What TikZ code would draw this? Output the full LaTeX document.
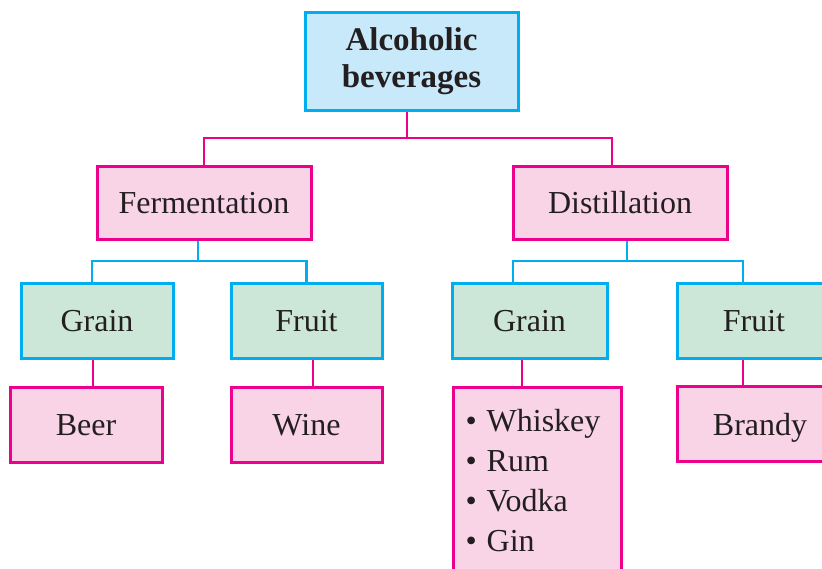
\documentclass[tikz,border=0pt]{standalone}
\usepackage{fontspec}
\setmainfont{Liberation Serif}
\usepackage{tikz}
\usetikzlibrary{positioning}

\definecolor{magb}{HTML}{EC008C}
\definecolor{cyanb}{HTML}{00AEEF}
\definecolor{pinkfill}{HTML}{F9D4E6}
\definecolor{bluefill}{HTML}{C8E9F9}
\definecolor{greenfill}{HTML}{CCE6D7}
\definecolor{inktext}{HTML}{231F20}

\begin{document}
\begin{tikzpicture}[x=0.5pt, y=-0.5pt,
    box/.style={line width=1.5pt, inner sep=0pt, align=center, text=inktext,
                font=\fontsize{16}{20}\selectfont},
    onerow/.style={text height=12pt, text depth=1pt},
    headbox/.style={box, draw=cyanb, fill=bluefill,
                font=\bfseries\fontsize{16.5}{18.5}\selectfont},
    pinkbox/.style={box, draw=magb, fill=pinkfill},
    pinkrow/.style={pinkbox, onerow},
    greenbox/.style={box, onerow, draw=cyanb, fill=greenfill},
    magline/.style={draw=magb, line width=1.4pt},
    cyanline/.style={draw=cyanb, line width=1.4pt}]
    \useasboundingbox (0,0) rectangle (822,568);

    \node[headbox, minimum width=106.5pt, minimum height=49pt] (top) at (411.5,61) {Alcoholic\\beverages};

    \node[pinkrow, minimum width=107pt, minimum height=36.5pt] (ferm) at (204,202.5) {Fermentation};
    \node[pinkrow, minimum width=107pt, minimum height=36.5pt] (dist) at (620,202.5) {Distillation};

    \node[greenbox, minimum width=76pt, minimum height=37.5pt] (fgrain) at (97,320.5) {Grain};
    \node[greenbox, minimum width=75.5pt, minimum height=37.5pt] (ffruit) at (306.5,320.5) {Fruit};
    \node[greenbox, minimum width=77.5pt, minimum height=37.5pt] (dgrain) at (529.5,320.5) {Grain};
    \node[greenbox, minimum width=85pt, minimum height=37.5pt] (dfruit) at (762,320.5) {\hspace*{-8pt}Fruit};

    \node[pinkrow, minimum width=76pt, minimum height=37.5pt] (beer) at (86,424.5) {Beer};
    \node[pinkrow, minimum width=75.5pt, minimum height=37.5pt] (wine) at (306.5,424.5) {Wine};
    \node[pinkbox, anchor=north west, align=left, text width=72pt,
          inner xsep=6pt, inner ysep=10.8pt] (spirits) at (452,386)
          {\textbullet\hspace{5pt}Whiskey\\ \textbullet\hspace{5pt}Rum\\
           \textbullet\hspace{5pt}Vodka\\ \textbullet\hspace{5pt}Gin};
    \node[pinkrow, minimum width=88pt, minimum height=37.5pt] (brandy) at (765,424) {\hspace*{-5pt}Brandy};

    % joints of the connectors
    \coordinate (j0) at (407,138);
    \coordinate (j1) at (198,261);
    \coordinate (j2) at (627,261);
    \coordinate (b1) at (93,0);
    \coordinate (b2) at (313,0);
    \coordinate (b3) at (522,0);
    \coordinate (b4) at (743,0);

    \draw[magline] (top.south -| j0) -- (j0);
    \draw[magline] (ferm.north) |- (j0) -| ([xshift=-4pt]dist.north);

    \draw[cyanline] (ferm.south -| j1) -- (j1);
    \draw[cyanline] ([xshift=-2.5pt]fgrain.north) |- (j1) -| (ffruit.north);
    \draw[cyanline] (dist.south -| j2) -- (j2);
    \draw[cyanline] (dgrain.north -| 513,0) |- (j2) -| (dfruit.north -| b4);

    \draw[magline] (fgrain.south -| b1) -- (beer.north -| b1);
    \draw[magline] (ffruit.south -| b2) -- (wine.north -| b2);
    \draw[magline] (dgrain.south -| b3) -- (spirits.north -| b3);
    \draw[magline] (dfruit.south -| b4) -- (brandy.north -| b4);
\end{tikzpicture}
\end{document}
